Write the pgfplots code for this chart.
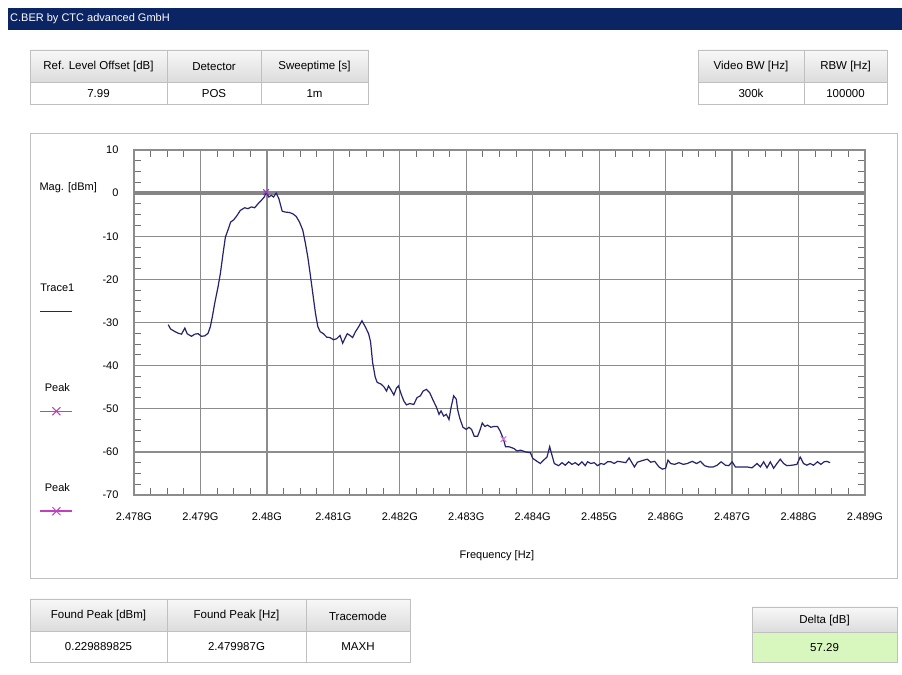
\documentclass[border=0pt]{standalone}
\usepackage{pgfplots}
\pgfplotsset{compat=1.18}
\usepackage{fontspec}
\setmainfont{Liberation Sans}

\definecolor{navybar}{HTML}{0B2463}
\definecolor{trace}{HTML}{24246E}
\definecolor{gridgray}{HTML}{8C8C8C}
\definecolor{zerogray}{HTML}{858585}
\definecolor{peakmag}{HTML}{C040C0}
\definecolor{peakone}{HTML}{A030D0}
\definecolor{cellborder}{HTML}{C0C0C0}
\definecolor{headtop}{HTML}{F8F8F8}
\definecolor{headbot}{HTML}{DCDCDC}
\definecolor{deltagreen}{HTML}{D8F7BE}

% header cell / value cell: x1 x2 y1 y2 text
\newcommand\hcell[5]{%
  \fill[top color=headtop,bottom color=headbot] (#1,#3) rectangle (#2,#4);
  \draw[cellborder] (#1,#3) rectangle (#2,#4);
  \node[yshift=-1bp] at ({(#1+#2)/2},{(#3+#4)/2}) {#5};}
\newcommand\vcell[6][white]{%
  \fill[#1] (#2,#4) rectangle (#3,#5);
  \draw[cellborder] (#2,#4) rectangle (#3,#5);
  \node[yshift=-0.5bp] at ({(#2+#3)/2},{(#4+#5)/2}) {#6};}

\begin{document}
\begin{tikzpicture}[x=1bp,y=1bp,font=\fontsize{11.5bp}{13bp}\selectfont]
\path[use as bounding box,fill=white] (0,0) rectangle (902,675);

% title bar
\fill[navybar] (8,645) rectangle (902,667);
\node[anchor=west,text=white,inner sep=0pt,font=\fontsize{11bp}{12bp}\selectfont] at (10,656) {C.BER by CTC advanced GmbH};

% settings tables
\hcell{30}{167}{593}{625}{Ref. Level Offset [dB]}
\hcell{167}{261}{593}{625}{Detector}
\hcell{261}{368}{593}{625}{Sweeptime [s]}
\vcell{30}{167}{571}{593}{7.99}
\vcell{167}{261}{571}{593}{POS}
\vcell{261}{368}{571}{593}{1m}

\hcell{698}{804}{593}{625}{Video BW [Hz]}
\hcell{804}{887}{593}{625}{RBW [Hz]}
\vcell{698}{804}{571}{593}{300k}
\vcell{804}{887}{571}{593}{100000}

% plot panel
\draw[cellborder,line width=1bp] (30,96) rectangle (897,541);

% result tables
\hcell{30}{167}{44}{76}{Found Peak [dBm]}
\hcell{167}{306}{44}{76}{Found Peak [Hz]}
\hcell{306}{410}{44}{76}{Tracemode}
\vcell{30}{167}{13}{44}{0.229889825}
\vcell{167}{306}{13}{44}{2.479987G}
\vcell{306}{410}{13}{44}{MAXH}

\hcell{752}{897}{43}{68}{Delta [dB]}
\vcell[deltagreen]{752}{897}{13}{43}{57.29}

\begin{axis}[
  at={(134bp,180bp)}, anchor=south west,
  scale only axis, width=731bp, height=345bp,
  xmin=0, xmax=11, ymin=-70, ymax=10,
  xtick={0,1,...,11},
  xticklabels={2.478G,2.479G,2.48G,2.481G,2.482G,2.483G,2.484G,2.485G,2.486G,2.487G,2.488G,2.489G},
  ytick={-70,-60,...,10},
  minor x tick num=3, minor y tick num=3,
  xtick pos=both, ytick pos=both,
  tick align=inside,
  major tick length=0pt, minor tick length=7bp,
  every minor tick/.style={draw=gridgray!80!black,line width=1bp},
  grid=major,
  major grid style={draw=gridgray,line width=1.3bp},
  axis line style={draw=gridgray,line width=1.5bp},
  /pgf/number format/assume math mode=true,
  tick label style={font=\fontsize{11bp}{13bp}\selectfont},
  xticklabel style={yshift=-14bp},
  yticklabel style={xshift=-12bp},
  xlabel={Frequency [Hz]},
  ylabel={Mag. [dBm]},
  every axis x label/.style={at={(axis description cs:0.4966,-0.177)},anchor=center},
  every axis y label/.style={at={(axis description cs:-0.09,0.89)},anchor=center},
  label style={font=\fontsize{11bp}{13bp}\selectfont},
  legend style={at={(axis description cs:-0.131,0.618)},anchor=north west,
    draw=none,fill=none,inner sep=0pt,row sep=86.5bp,
    font=\fontsize{11bp}{13bp}\selectfont},
  legend cell align=center,
]
\addplot[forget plot,draw=zerogray,line width=4bp] coordinates {(0,0) (11,0)};

\addplot[trace,line width=1.2bp,
  legend image code/.code={\draw[overlay,trace,line width=1.5bp] (2bp,-23bp) -- (34bp,-23bp);}]
coordinates {
(0.515,-30.5) (0.55,-31.5) (0.615,-32.1) (0.665,-32.5) (0.715,-32.7)
(0.765,-31.3) (0.80,-32.6) (0.865,-33.2) (0.915,-32.7) (0.965,-32.6)
(1.015,-33.2) (1.065,-33.1) (1.115,-32.5) (1.15,-30.9) (1.18,-28.6)
(1.215,-25.5) (1.265,-21.7) (1.30,-18.6) (1.34,-14.0) (1.375,-10.2)
(1.415,-8.5) (1.455,-6.7) (1.50,-6.2) (1.55,-5.2) (1.60,-4.0)
(1.665,-3.4) (1.715,-3.6) (1.765,-3.2) (1.815,-3.4) (1.865,-2.5)
(1.915,-1.7) (1.965,-0.8) (1.987,0.23) (2.03,-0.9) (2.065,-0.5)
(2.10,-0.9) (2.14,0.0) (2.18,-1.3) (2.23,-4.2) (2.28,-4.4)
(2.34,-4.5) (2.39,-4.8) (2.44,-5.4) (2.49,-6.7) (2.54,-8.6)
(2.58,-11.7) (2.615,-14.8) (2.65,-18.6) (2.69,-23.2) (2.73,-27.8)
(2.765,-30.9) (2.80,-32.1) (2.85,-32.6) (2.90,-33.4) (2.95,-33.5)
(3.00,-34.0) (3.05,-33.75) (3.10,-33.0) (3.14,-34.8) (3.18,-33.5)
(3.21,-32.6) (3.25,-33.0) (3.29,-33.5) (3.33,-32.2) (3.38,-31.0)
(3.43,-29.6) (3.48,-31.0) (3.53,-32.6) (3.56,-34.5) (3.59,-39.2)
(3.63,-42.7) (3.66,-43.9) (3.72,-44.3) (3.76,-44.9) (3.80,-45.9)
(3.83,-44.7) (3.87,-45.7) (3.91,-46.8) (3.95,-45.2) (3.98,-44.7)
(4.02,-46.6) (4.06,-48.2) (4.10,-49.1) (4.15,-48.8) (4.21,-49.0)
(4.26,-47.4) (4.31,-47.0) (4.35,-45.9) (4.40,-45.5) (4.45,-46.3)
(4.50,-48.0) (4.55,-49.6) (4.59,-51.3) (4.62,-50.5) (4.66,-51.7)
(4.70,-51.3) (4.74,-52.5) (4.77,-49.8) (4.81,-47.0) (4.85,-47.8)
(4.87,-50.2) (4.90,-52.1) (4.95,-54.3) (5.00,-54.8) (5.04,-54.3)
(5.08,-54.8) (5.12,-56.4) (5.17,-56.4) (5.21,-54.8) (5.24,-53.3)
(5.28,-54.1) (5.32,-53.8) (5.37,-54.3) (5.42,-54.1) (5.47,-54.1)
(5.51,-55.2) (5.56,-57.06) (5.59,-58.8) (5.64,-58.8) (5.715,-59.2)
(5.765,-59.8) (5.815,-59.6) (5.89,-60.0) (5.965,-60.2) (6.0,-61.5)
(6.065,-62.2) (6.115,-62.7) (6.165,-61.9) (6.215,-61.2) (6.255,-58.8)
(6.29,-60.8) (6.325,-62.7) (6.39,-63.2) (6.44,-62.5) (6.49,-63.1)
(6.54,-62.3) (6.59,-62.9) (6.64,-62.5) (6.69,-63.1) (6.74,-62.3)
(6.79,-63.2) (6.825,-62.3) (6.875,-62.7) (6.925,-62.5) (6.975,-63.2)
(7.025,-62.7) (7.075,-62.9) (7.125,-62.3) (7.175,-62.3) (7.225,-62.7)
(7.275,-62.2) (7.325,-62.3) (7.40,-62.5) (7.45,-61.4) (7.53,-63.5)
(7.575,-62.4) (7.65,-62.0) (7.725,-61.7) (7.775,-62.4) (7.835,-62.2)
(7.90,-63.5) (7.95,-64.0) (8.00,-63.8) (8.035,-61.9) (8.075,-62.7)
(8.135,-62.9) (8.20,-62.5) (8.265,-62.9) (8.325,-62.7) (8.40,-62.2)
(8.465,-62.7) (8.525,-62.2) (8.585,-63.2) (8.65,-63.5) (8.715,-63.5)
(8.775,-63.1) (8.835,-62.3) (8.90,-63.1) (8.95,-63.2) (9.00,-62.3)
(9.05,-63.5) (9.125,-63.5) (9.225,-63.5) (9.30,-63.7) (9.375,-62.7)
(9.425,-63.5) (9.475,-62.3) (9.525,-63.7) (9.575,-62.3) (9.625,-63.8)
(9.675,-62.7) (9.725,-61.7) (9.775,-62.7) (9.825,-63.2) (9.90,-63.1)
(9.975,-62.9) (10.025,-61.2) (10.075,-62.7) (10.125,-63.1) (10.175,-62.7)
(10.225,-63.1) (10.285,-62.3) (10.335,-62.9) (10.385,-62.3) (10.425,-62.2)
(10.475,-62.5)
};
\addlegendentry{Trace1}

\addplot[only marks,mark=x,mark size=4bp,peakone,line width=1bp,
  legend image code/.code={\draw[overlay,peakmag,line width=1.5bp] (2bp,-23bp) -- (34bp,-23bp);
    \draw[overlay,peakmag,line width=1bp] (14bp,-27bp) -- (22bp,-19bp) (14bp,-19bp) -- (22bp,-27bp);}]
coordinates {(1.987,0.23)};
\addlegendentry{Peak}

\addplot[only marks,mark=x,mark size=4bp,peakmag!70,line width=1bp,
  legend image code/.code={\draw[overlay,peakmag,line width=1.5bp] (2bp,-23bp) -- (34bp,-23bp);
    \draw[overlay,peakmag,line width=1bp] (14bp,-27bp) -- (22bp,-19bp) (14bp,-19bp) -- (22bp,-27bp);}]
coordinates {(5.56,-57.06)};
\addlegendentry{Peak}
\end{axis}
\end{tikzpicture}
\end{document}
